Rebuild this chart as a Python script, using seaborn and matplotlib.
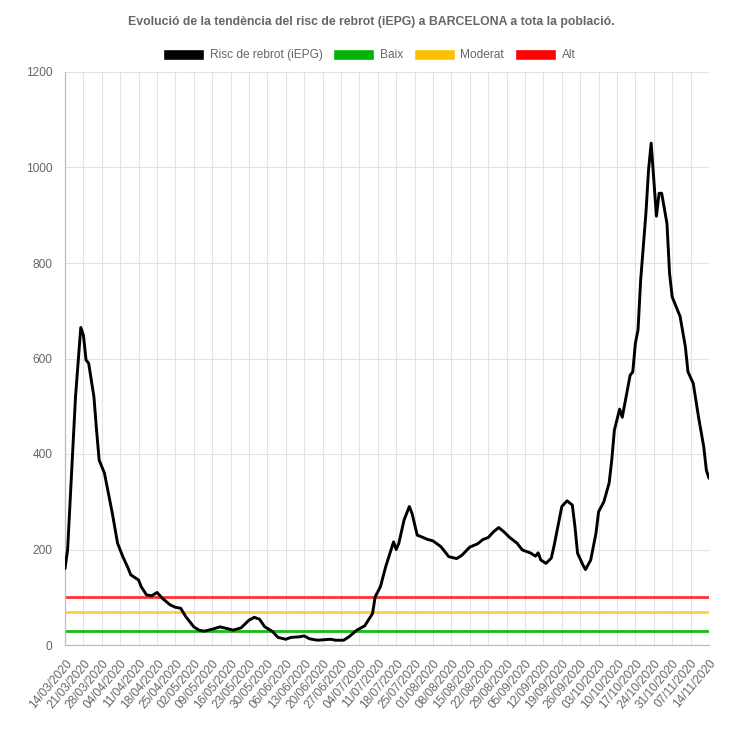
import numpy as np
import pandas as pd
import matplotlib
matplotlib.use("Agg")
import matplotlib.pyplot as plt
from matplotlib.patches import Patch
import seaborn as sns

# ---------------------------------------------------------------
# data
# ---------------------------------------------------------------
start = pd.Timestamp("2020-03-14")
end = pd.Timestamp("2020-11-14")

# days since 14/03/2020
day = [0, 1, 4, 6, 7, 8, 9, 11, 12, 13, 15, 16, 18, 20, 22, 24, 25, 28, 29,
       31, 33, 35, 37, 40, 42, 44, 46, 49, 51, 53, 56, 59, 62, 64, 67, 70,
       72, 74, 76, 79, 81, 84, 86, 89, 91, 93, 96, 101, 103, 106, 108, 111,
       114, 117, 118, 120, 122, 124, 125, 126, 127, 129, 131, 132, 134, 135,
       138, 140, 143, 146, 149, 151, 154, 157, 159, 161, 163, 165, 167, 169,
       172, 174, 177, 179, 180, 181, 183, 185, 186, 188, 189, 191, 193, 194,
       195, 197, 198, 200, 202, 203, 205, 207, 208, 209, 211, 212, 213, 215,
       216, 217, 218, 219, 221, 222, 223, 224, 225, 226, 227, 229, 230, 231,
       234, 236, 237, 239, 241, 243, 244, 245]
iepg = [160, 200, 520, 665, 649, 597, 590, 520, 450, 387, 360, 332, 276, 213,
        185, 161, 147, 136, 122, 105, 103, 110, 98, 84, 79, 77, 59, 38, 31,
        29, 33, 38, 34, 31, 36, 52, 58, 54, 38, 28, 16, 12, 16, 17, 19, 13,
        10, 12, 10, 10, 17, 31, 40, 66, 101, 122, 164, 199, 216, 200, 213,
        262, 290, 276, 230, 228, 221, 218, 206, 185, 181, 188, 205, 212, 221,
        225, 237, 246, 237, 226, 213, 199, 193, 186, 193, 178, 171, 182, 206,
        262, 290, 302, 293, 248, 192, 168, 158, 178, 234, 279, 300, 339, 387,
        450, 494, 477, 506, 565, 572, 632, 660, 764, 904, 995, 1051, 974, 898,
        946, 946, 883, 778, 729, 688, 625, 572, 548, 478, 415, 366, 349]

# risk thresholds
baix = 30
moderat = 70
alt = 100

serie_color = "#000000"
baix_color = "#00b300"
moderat_color = "#ffc000"
alt_color = "#ff0000"

title = "Evolució de la tendència del risc de rebrot (iEPG) a BARCELONA a tota la població."

df = pd.DataFrame({"data": start + pd.to_timedelta(day, unit="D"), "iepg": iepg})

# ---------------------------------------------------------------
# plot
# ---------------------------------------------------------------
sns.set_theme(style="white")
plt.rcParams["font.family"] = ["Liberation Sans", "DejaVu Sans"]

fig = plt.figure(figsize=(7.43, 7.39), dpi=100)
fig.patch.set_facecolor("white")
ax = fig.add_axes([65 / 743, 94 / 739, 644 / 743, 573 / 739])

ax.axhline(baix, color=baix_color, lw=2, alpha=0.9, zorder=2)
ax.axhline(moderat, color=moderat_color, lw=2, alpha=0.75, zorder=2)
ax.axhline(alt, color=alt_color, lw=2, alpha=0.8, zorder=2)

sns.lineplot(data=df, x="data", y="iepg", color=serie_color, lw=2.1, ax=ax, zorder=3)

ticks = pd.date_range(start, end, freq="7D")
ax.set_xticks(ticks)
ax.set_xticklabels([t.strftime("%d/%m/%Y") for t in ticks], rotation=50,
                   ha="right", rotation_mode="anchor", fontsize=8.6, color="#666666")
ax.set_xlim(start, end)
ax.set_ylim(0, 1200)
ax.set_yticks(np.arange(0, 1201, 200))
ax.set_yticklabels([str(v) for v in range(0, 1201, 200)], fontsize=8.6, color="#666666")
ax.set_xlabel("")
ax.set_ylabel("")

ax.grid(True, color="#e3e3e3", lw=0.8)
ax.set_axisbelow(True)
ax.tick_params(axis="both", length=7, color="#e3e3e3", width=0.8, pad=2)
for side in ["top", "right"]:
    ax.spines[side].set_visible(False)
for side in ["left", "bottom"]:
    ax.spines[side].set_color("#bdbdbd")
    ax.spines[side].set_linewidth(0.9)

fig.text(0.5, 1 - 22 / 739, title, ha="center", va="center", fontsize=8.8,
         fontweight="bold", color="#666666")

handles = [Patch(facecolor=serie_color, label="Risc de rebrot (iEPG)"),
           Patch(facecolor=baix_color, label="Baix"),
           Patch(facecolor=moderat_color, label="Moderat"),
           Patch(facecolor=alt_color, label="Alt")]
fig.legend(handles=handles, loc="center", bbox_to_anchor=(0.497, 1 - 55 / 739),
           ncol=4, frameon=False, fontsize=8.6, handlelength=3.4, handleheight=1.1,
           handletextpad=0.5, columnspacing=0.9, labelcolor="#666666")

fig.savefig("out.png", dpi=100, facecolor="white")
